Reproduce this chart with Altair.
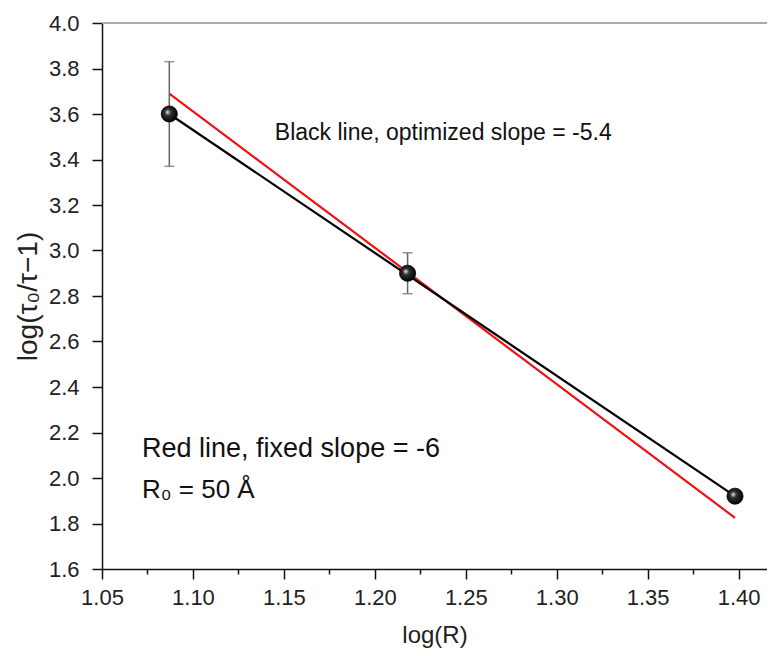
import altair as alt
import pandas as pd

# data points
log_r = [1.087, 1.218, 1.398]
log_tau = [3.60, 2.90, 1.92]
err = [0.23, 0.09, 0.0]

# fitted lines (end points)
red_x = [1.087, 1.398]
red_y = [3.69, 1.825]
black_x = [1.087, 1.398]
black_y = [3.60, 1.92]

# annotations
ann_x = [1.145, 1.072, 1.072]
ann_y = [3.516, 2.127, 1.947]
ann_text = ["Black line, optimized slope = -5.4", "Red line, fixed slope = -6", "R\u2080 = 50 \u00c5"]
ann_size = [23, 27, 26]

x_ticks = [round(1.05 + 0.025 * i, 3) for i in range(15)]
y_ticks = [round(1.6 + 0.1 * i, 1) for i in range(25)]

FONT = "Liberation Sans"
XDOM = [1.05, 1.4156]
YDOM = [1.6, 4.0]

pts = pd.DataFrame({"x": log_r, "y": log_tau, "lo": [a - b for a, b in zip(log_tau, err)],
                    "hi": [a + b for a, b in zip(log_tau, err)]})
red = pd.DataFrame({"x": red_x, "y": red_y})
blk = pd.DataFrame({"x": black_x, "y": black_y})
ann = pd.DataFrame({"x": ann_x, "y": ann_y, "t": ann_text, "s": ann_size})

xs = alt.Scale(domain=XDOM, nice=False, zero=False)
ys = alt.Scale(domain=YDOM, nice=False, zero=False)

xaxis = alt.Axis(
    values=x_ticks, title="log(R)", grid=False,
    labelExpr="round(datum.value*40)%2==0 ? format(datum.value,'.2f') : ''",
    tickSize={"condition": {"test": "round(datum.value*40)%2==0", "value": 10}, "value": 5},
    labelFont=FONT, labelFontSize=22, labelColor="#222", labelPadding=8,
    titleFont=FONT, titleFontSize=24, titleFontWeight="normal", titleColor="#222", titlePadding=15,
    domainColor="#111", domainWidth=1.5, tickColor="#111", tickWidth=1.5, labelFlush=False,
)
yaxis = alt.Axis(
    values=y_ticks, title="log(\u03c4\u2080/\u03c4\u22121)", grid=False,
    labelExpr="round(datum.value*10)%2==0 ? format(datum.value,'.1f') : ''",
    tickSize={"condition": {"test": "round(datum.value*10)%2==0", "value": 10}, "value": 5},
    labelFont=FONT, labelFontSize=22, labelColor="#222", labelPadding=13,
    titleFont=FONT, titleFontSize=28, titleFontWeight="normal", titleColor="#222", titlePadding=6,
    domainColor="#111", domainWidth=1.5, tickColor="#111", tickWidth=1.5, labelFlush=False,
)

base_x = alt.X("x:Q", scale=xs, axis=xaxis)
base_y = alt.Y("y:Q", scale=ys, axis=yaxis)

top = alt.Chart(pd.DataFrame({"y": [4.0]})).mark_rule(color="#aaaaaa", strokeWidth=2).encode(
    y=alt.Y("y:Q", scale=ys))

red_line = alt.Chart(red).mark_line(color="#ee1111", strokeWidth=2.2).encode(x=base_x, y=base_y)
blk_line = alt.Chart(blk).mark_line(color="#000000", strokeWidth=2.2).encode(x="x:Q", y="y:Q")

ebar = alt.Chart(pts).mark_rule(color="#666666", strokeWidth=1.5).encode(
    x="x:Q", y="lo:Q", y2="hi:Q")
cap_lo = alt.Chart(pts).mark_tick(color="#666666", orient="horizontal", size=10, thickness=1.5).encode(
    x="x:Q", y="lo:Q")
cap_hi = alt.Chart(pts).mark_tick(color="#666666", orient="horizontal", size=10, thickness=1.5).encode(
    x="x:Q", y="hi:Q")

grad = alt.Gradient(
    gradient="radial",
    stops=[alt.GradientStop(offset=0, color="#eeeeee"),
           alt.GradientStop(offset=0.35, color="#333333"),
           alt.GradientStop(offset=1, color="#000000")],
    x1=0.38, y1=0.38, r1=0, x2=0.45, y2=0.45, r2=0.55,
)
points = alt.Chart(pts).mark_point(filled=True, shape="circle", size=260, fill=grad, stroke="#000",
                                   strokeWidth=0.8, opacity=1).encode(x="x:Q", y="y:Q")

texts = alt.Chart(ann).mark_text(align="left", baseline="middle", font=FONT,
                                 color="#111").encode(
    x="x:Q", y="y:Q", text="t:N", size=alt.Size("s:Q", scale=None, legend=None))

chart = alt.layer(top, red_line, blk_line, ebar, cap_lo, cap_hi, points, texts).properties(
    width=665, height=546,
    autosize=alt.AutoSizeParams(type="none"),
    padding={"left": 94, "top": 15, "right": 0, "bottom": 79},
).configure_view(stroke=None).configure(background="white")

chart.save("out.html", embed_options={"renderer": "svg", "actions": False})
